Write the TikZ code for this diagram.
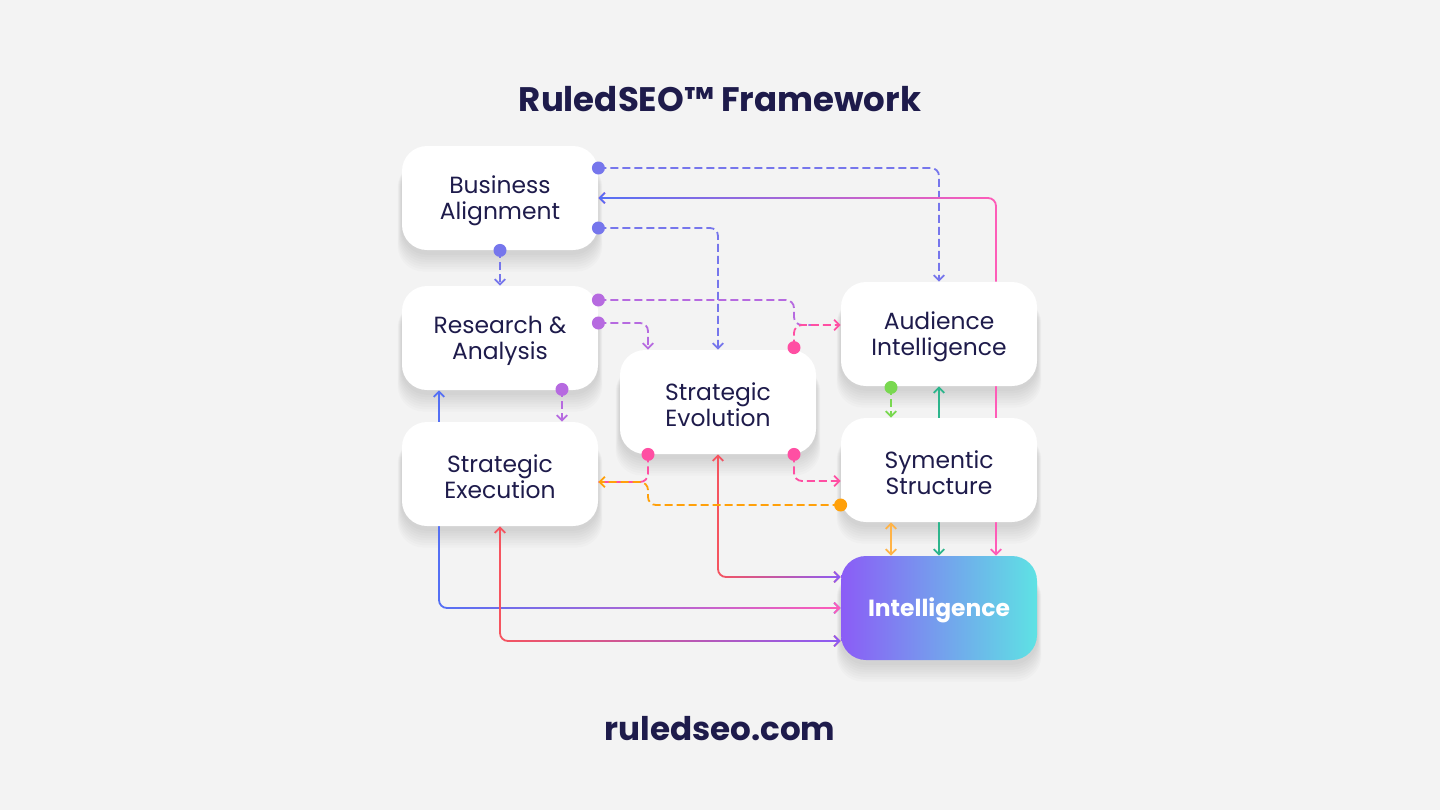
\documentclass[tikz,border=0pt]{standalone}
\usepackage{fontspec}
\setmainfont{Poppins}
\usetikzlibrary{arrows.meta,calc,fadings}
\definecolor{bgc}{HTML}{F3F3F3}
\definecolor{navy}{HTML}{1E1B4B}
\definecolor{indig}{HTML}{7676EC}
\definecolor{blu}{HTML}{5470F5}
\definecolor{pnk}{HTML}{FF5CB8}
\definecolor{hotpink}{HTML}{FF4FA3}
\definecolor{purp}{HTML}{B66AE0}
\definecolor{redc}{HTML}{F6545F}
\definecolor{violc}{HTML}{8B5CF6}
\definecolor{cyanc}{HTML}{5EE2E4}
\definecolor{orng}{HTML}{FFA00A}
\definecolor{grn}{HTML}{79D850}
\definecolor{tealc}{HTML}{2DB58C}
\definecolor{yel}{HTML}{FFB347}
\pgfdeclarelayer{bg}
\pgfdeclarelayer{shd}
\pgfdeclarelayer{lines}
\pgfsetlayers{bg,shd,lines,main}
\tikzfading[name=fadeL, left color=transparent!0, right color=transparent!100]
\tikzfading[name=fadeR, left color=transparent!100, right color=transparent!0]
\newcommand{\boxfont}{\fontsize{11.7}{13}\selectfont}
\begin{document}
\begin{tikzpicture}[x=0.5pt,y=-0.5pt,
  basebox/.style={rectangle, rounded corners=12.5pt, minimum width=98pt, minimum height=52pt, inner sep=0pt},
  box/.style={basebox, fill=white},
  txt/.style={align=center, text=navy, font=\boxfont, inner sep=0pt},
  conn/.style={line width=0.9pt, rounded corners=4pt},
  dsh/.style={conn, dash pattern=on 4pt off 2pt},
  arr/.style={-{Straight Barb[length=2.6pt,width=5.2pt]}},
  biarr/.style={{Straight Barb[length=2.6pt,width=5.2pt]}-{Straight Barb[length=2.6pt,width=5.2pt]}},
  dot/.style={circle, inner sep=0pt, minimum size=6.5pt}]
\useasboundingbox (0,0) rectangle (1440,810);
\begin{pgfonlayer}{bg}
\fill[bgc] (0,0) rectangle (1440,810);
\end{pgfonlayer}
% title and footer
\node[text=navy, font=\fontsize{17}{20}\selectfont\bfseries] (title) at (720,99) {RuledSEO™ Framework};
\node[text=navy, font=\fontsize{16.3}{20}\selectfont\bfseries] (site) at (720,729) {ruledseo.com};
% boxes
\node[box] (ba) at (500,198) {};
\node[box] (ra) at (500,338) {};
\node[box] (se) at (500,474) {};
\node[box] (ev) at (718,402) {};
\node[box] (ai) at (939,334) {};
\node[box] (ss) at (939,470) {};
\node[basebox, left color=violc, right color=cyanc] (in) at (939,608) {};
\node[txt] (bat) at ($(ba)+(0,3)$) {Business\\Alignment};
\node[txt] (rat) at ($(ra)+(0,3)$) {Research \&\\Analysis};
\node[txt] (set) at ($(se)+(0,3)$) {Strategic\\Execution};
\node[txt] (evt) at ($(ev)+(0,3)$) {Strategic\\Evolution};
\node[txt] (ait) at ($(ai)+(0,3)$) {Audience\\Intelligence};
\node[txt] (sst) at ($(ss)+(0,3)$) {Symentic\\Structure};
\node[txt, text=white, font=\boxfont\bfseries] (int) at ($(in)+(0,2)$) {Intelligence};
% soft shadows
\begin{pgfonlayer}{shd}
\foreach \n in {ba,ra,se,ev,ai,ss,in}
  \foreach \k in {1,...,8}
    \fill[black, opacity=0.016, rounded corners=13pt]
      ($(\n.south west)+(-0.5*\k, 2+2.4*\k)$) rectangle ($(\n.north east)+(0.5*\k, 16)$);
\end{pgfonlayer}
% anchor points
\coordinate (d1) at ($(ba.east)+(0,-30)$);
\coordinate (d3) at ($(ba.east)+(0,30)$);
\coordinate (d4) at (ba.south);
\coordinate (d5) at ($(ra.east)+(0,-38)$);
\coordinate (d7) at ($(ra.east)+(0,-15)$);
\coordinate (d8) at ($(ra.south)+(62,-1)$);
\coordinate (ra1) at ($(ra.south)+(-61,0)$);
\coordinate (d6) at ($(ev.north)+(76,-2)$);
\coordinate (ev1) at ($(ev.north)+(-70,0)$);
\coordinate (d12) at ($(ev.south)+(-70,0)$);
\coordinate (d14) at ($(ev.south)+(76,0)$);
\coordinate (se2) at ($(se.east)+(0,8)$);
\coordinate (se3) at ($(se.north)+(62,0)$);
\coordinate (ai1) at ($(ai.north)+(57,0)$);
\coordinate (ai2) at ($(ai.west)+(0,-9)$);
\coordinate (d15) at ($(ai.south)+(-48,1)$);
\coordinate (ai3) at ($(ai.south)+(57,0)$);
\coordinate (ss0) at ($(ss.north)+(-48,0)$);
\coordinate (ss3) at ($(ss.west)+(0,11)$);
\coordinate (d13) at ($(ss.west)+(0,35)$);
\coordinate (ss1) at ($(ss.south)+(-48,0)$);
\coordinate (in1) at ($(in.north)+(-48,0)$);
\coordinate (in2) at ($(in.north)+(57,0)$);
\coordinate (ina) at ($(in.west)+(0,-31)$);
\coordinate (inc) at ($(in.west)+(0,33)$);
% connectors
\begin{pgfonlayer}{lines}
\draw[dsh, indig, arr] (d1) -| (ai.north);
\draw[conn, pnk, arr] (ai1) |- (ba.east);
\draw[conn, blu, arr, path fading=fadeL] (ai1) |- (ba.east);
\draw[dsh, indig, arr] (d3) -| (ev.north);
\draw[dsh, indig, arr] (d4) -- (ra.north);
\draw[dsh, purp] (d5) -| (d6 |- ai2) -- ++(20,0);
\draw[dsh, hotpink, arr] (d6) |- (ai2);
\draw[dsh, purp, arr] (d7) -| (ev1);
\draw[dsh, purp, arr] (d8) -- (se3);
\draw[conn, blu, biarr] (ra1) |- (in.west);
\draw[conn, pnk, biarr, path fading=fadeR] (ra1) |- (in.west);
\draw[conn, redc, biarr] (se.south) |- (inc);
\draw[conn, violc, biarr, path fading=fadeR] (se.south) |- (inc);
\draw[conn, redc, biarr] (ev.south) |- (ina);
\draw[conn, violc, biarr, path fading=fadeR] (ev.south) |- (ina);
\draw[dsh, hotpink] (d12) |- (se2);
\draw[dsh, orng, arr] (d13) -| (d12 |- se2) -- (se2);
\draw[dsh, hotpink, arr] (d14) |- (ss3);
\draw[dsh, grn, arr] (d15) -- (ss0);
\draw[conn, tealc, biarr] (ai.south) -- (in.north);
\draw[conn, yel, biarr] (ss1) -- (in1);
\draw[conn, pnk, arr] (ai3) -- (in2);
\end{pgfonlayer}
% dots
\foreach \p/\c in {d1/indig, d3/indig, d4/indig, d5/purp, d7/purp, d8/purp, d6/hotpink, d12/hotpink, d14/hotpink, d13/orng, d15/grn}
  \node[dot, fill=\c] at (\p) {};
\end{tikzpicture}
\end{document}
